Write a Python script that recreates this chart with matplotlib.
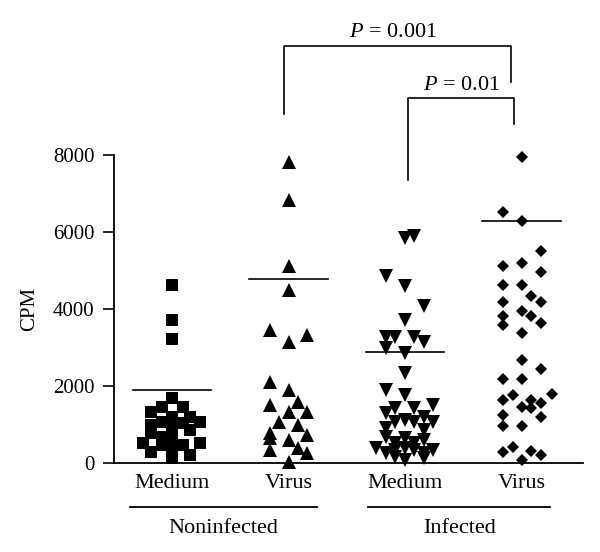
"""CPM scatter: noninfected vs infected, medium vs virus stimulation."""

import matplotlib

matplotlib.use("Agg")
import matplotlib.pyplot as plt  # noqa: E402

# --- Data --------------------------------------------------------------

GROUPS = ["Medium", "Virus", "Medium", "Virus"]
GROUP_POS = [1, 2, 3, 4]
MARKERS = ["s", "^", "v", "D"]
MARKER_SIZES = [8, 10, 10, 6.6]

# noninfected / medium (squares)
nm_offset = [0, 0, 0, 0, -0.18, -0.09, 0.09, 0, 0.155, 0.24, -0.18, -0.09, 0.09,
             0.155, -0.18, 0, -0.09, 0, -0.25, -0.18, -0.09, 0, 0, 0.09, 0.155, 0.24]
nm_cpm = [4630, 3720, 3230, 1690, 1340, 1470, 1470, 1210, 1210, 1080, 990, 1080, 1040,
          860, 780, 950, 690, 650, 520, 300, 475, 390, 130, 475, 215, 520]

# noninfected / virus (triangles up)
nv_offset = [0, 0, 0, 0, -0.16, 0, 0.16, -0.16, 0, 0.085, -0.16, 0, 0.16,
             -0.08, 0.085, -0.16, -0.16, 0.16, 0, -0.16, 0.085, 0.16, 0]
nv_cpm = [7830, 6840, 5110, 4500, 3460, 3160, 3330, 2120, 1900, 1600, 1510, 1340, 1340,
          1080, 1000, 780, 650, 740, 610, 350, 390, 260, 40]

# infected / medium (triangles down)
im_offset = [0, 0.08, -0.16, 0, 0.16, 0, -0.16, -0.085, 0.08, 0.16, -0.16, 0,
             0, -0.16, 0, -0.085, 0.08, 0.24, -0.16, 0.16, -0.085, 0, 0.08, 0.24,
             -0.16, 0.16, -0.16, 0, 0.16, -0.085, 0.08, -0.245, -0.16, -0.085, 0,
             0.08, 0.16, 0.24, 0, -0.085, 0.16]
im_cpm = [5840, 5890, 4850, 4590, 4070, 3720, 3290, 3290, 3290, 3160, 2990, 2860,
          2340, 1900, 1770, 1430, 1430, 1510, 1300, 1210, 1080, 1120, 1080, 1080,
          910, 860, 690, 650, 600, 520, 520, 390, 260, 340, 390,
          340, 260, 340, 90, 170, 130]

# infected / virus (diamonds)
iv_offset = [0, -0.16, 0, 0.17, -0.16, 0, 0.17, -0.16, 0, -0.16, 0.085, 0.17,
             0, -0.16, -0.16, 0.085, 0.17, 0, 0, 0.17, -0.16, 0, -0.07, -0.16,
             0.085, 0.26, 0.17, 0, 0.085, -0.16, 0.17, -0.16, 0, -0.16, -0.07,
             0.085, 0.17, 0]
iv_cpm = [7960, 6510, 6290, 5510, 5110, 5200, 4960, 4630, 4630, 4180, 4330, 4180,
          3960, 3810, 3590, 3810, 3650, 3380, 2680, 2450, 2190, 2190, 1770, 1640,
          1640, 1800, 1560, 1470, 1430, 1260, 1200, 980, 980, 300, 430,
          320, 220, 90]

# horizontal bars drawn in the reference (group means)
MEAN_CPM = [1890, 4780, 2900, 6290]

CONDITIONS = ["Noninfected", "Infected"]
P_LABELS = ["0.001", "0.01"]


def make_figure(out_png):
    plt.rcParams["font.family"] = ["Liberation Serif", "DejaVu Serif"]
    plt.rcParams["mathtext.fontset"] = "custom"
    plt.rcParams["mathtext.rm"] = "Liberation Serif"
    plt.rcParams["mathtext.it"] = "Liberation Serif:italic"

    fig = plt.figure(figsize=(6.0, 5.52), dpi=100)
    ax = fig.add_axes([0.19, 0.1607, 0.7817, 0.5585])

    offsets = [nm_offset, nv_offset, im_offset, iv_offset]
    values = [nm_cpm, nv_cpm, im_cpm, iv_cpm]
    for pos, offs, vals, mk, ms in zip(GROUP_POS, offsets, values, MARKERS, MARKER_SIZES):
        xs = [pos + o for o in offs]
        ax.plot(xs, vals, linestyle="none", marker=mk, markersize=ms,
                color="black", markeredgewidth=0, clip_on=False, zorder=3)

    for pos, m in zip(GROUP_POS, MEAN_CPM):
        ax.plot([pos - 0.335, pos + 0.335], [m, m], color="black", lw=1.2, zorder=2)

    ax.set_xlim(0.502, 4.528)
    ax.set_ylim(0, 8000)
    ax.set_yticks([0, 2000, 4000, 6000, 8000])
    ax.set_xticks(GROUP_POS)
    ax.set_xticklabels(GROUPS)
    ax.tick_params(axis="y", length=8, width=1.2, labelsize=15, pad=6)
    ax.tick_params(axis="x", length=0, labelsize=16, pad=8)
    for side in ("top", "right"):
        ax.spines[side].set_visible(False)
    for side in ("left", "bottom"):
        ax.spines[side].set_linewidth(1.3)
    ax.set_ylabel("CPM", fontsize=15)
    ax.yaxis.set_label_coords(-0.16, 0.5)

    # condition underlines + labels
    trans = ax.get_xaxis_transform()
    for (x0, x1), xc, name in zip([(0.64, 2.245), (2.68, 4.245)], [1.44, 3.47], CONDITIONS):
        ax.plot([x0, x1], [-0.142, -0.142], color="black", lw=1.3,
                transform=trans, clip_on=False)
        ax.text(xc, -0.211, name, fontsize=16, ha="center", va="center",
                transform=trans)

    # significance brackets
    brackets = [
        (1.964, 3.907, 10836, 9063, 9901, 2.897, 11173),
        (3.028, 3.937, 9471, 7351, 8804, 3.487, 9816),
    ]
    for (xl, xr, top, yl, yr, xt, yt), p in zip(brackets, P_LABELS):
        ax.plot([xl, xl, xr, xr], [yl, top, top, yr], color="black", lw=1.2,
                clip_on=False)
        ax.text(xt, yt, rf"$\it{{P}}$ = {p}", fontsize=16, ha="center",
                va="center")

    fig.savefig(out_png)


def main():
    make_figure("out.png")


if __name__ == "__main__":
    main()
